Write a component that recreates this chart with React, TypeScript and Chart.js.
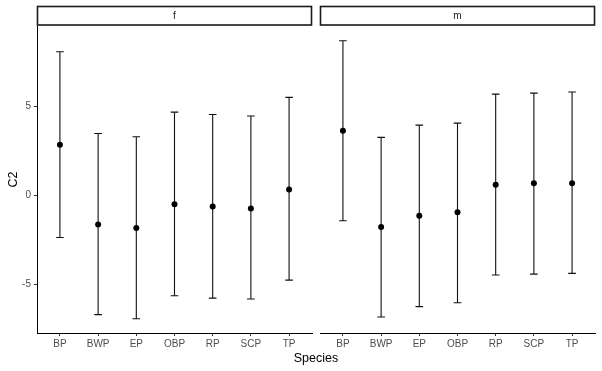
import React, { useEffect, useRef } from "react";
import { Chart, registerables } from "chart.js";

Chart.register(...registerables);

const categories = ["BP", "BWP", "EP", "OBP", "RP", "SCP", "TP"];
const panels = ["f", "m"];

const fMean = [2.83, -1.65, -1.85, -0.51, -0.64, -0.75, 0.32];
const fLower = [-2.38, -6.72, -6.95, -5.66, -5.79, -5.84, -4.78];
const fUpper = [8.05, 3.46, 3.28, 4.66, 4.53, 4.44, 5.49];

const mMean = [3.61, -1.8, -1.16, -0.97, 0.58, 0.67, 0.67];
const mLower = [-1.44, -6.85, -6.27, -6.05, -4.49, -4.44, -4.4];
const mUpper = [8.67, 3.24, 3.93, 4.04, 5.67, 5.73, 5.79];

const yTicks = [-5, 0, 5];
const yMin = -7.75;
const yMax = 9.5;
const capWidth = 0.2;

const FONT = "'Liberation Sans', Arial, sans-serif";

function makeConfig(
  label: string,
  means: number[],
  lowers: number[],
  uppers: number[],
  showY: boolean,
  padLeft: number,
  padRight: number
): any {
  const errorBars = {
    id: "errorBars",
    beforeDatasetsDraw(chart: any) {
      const ctx = chart.ctx;
      const xs = chart.scales.x;
      const ys = chart.scales.y;
      ctx.save();
      ctx.strokeStyle = "#111111";
      ctx.lineWidth = 1.1;
      for (let i = 0; i < means.length; i++) {
        const x = xs.getPixelForValue(i);
        const xl = xs.getPixelForValue(i - capWidth / 2);
        const xr = xs.getPixelForValue(i + capWidth / 2);
        const yl = ys.getPixelForValue(lowers[i]);
        const yu = ys.getPixelForValue(uppers[i]);
        ctx.beginPath();
        ctx.moveTo(x, yl);
        ctx.lineTo(x, yu);
        ctx.moveTo(xl, yl);
        ctx.lineTo(xr, yl);
        ctx.moveTo(xl, yu);
        ctx.lineTo(xr, yu);
        ctx.stroke();
      }
      ctx.restore();
    },
  };
  const strip = {
    id: "strip",
    afterDraw(chart: any) {
      const ctx = chart.ctx;
      const a = chart.chartArea;
      ctx.save();
      ctx.fillStyle = "#ffffff";
      ctx.strokeStyle = "#1a1a1a";
      ctx.lineWidth = 1.6;
      const top = a.top - 19.5;
      ctx.fillRect(a.left, top, a.right - a.left, 18.5);
      ctx.strokeRect(a.left + 0.5, top, a.right - a.left - 1, 18.5);
      ctx.fillStyle = "#1a1a1a";
      ctx.font = `10px ${FONT}`;
      ctx.textAlign = "center";
      ctx.textBaseline = "middle";
      ctx.fillText(label, (a.left + a.right) / 2, top + 9.5);
      ctx.restore();
    },
  };
  return {
    type: "scatter",
    data: {
      datasets: [
        {
          data: means.map((v, i) => ({ x: i, y: v })),
          backgroundColor: "#000000",
          borderColor: "#000000",
          pointRadius: 3,
          borderWidth: 0,
        },
      ],
    },
    options: {
      responsive: false,
      animation: false,
      events: [],
      layout: { padding: { top: 26, left: padLeft, right: padRight, bottom: 0 } },
      plugins: {
        legend: { display: false },
        tooltip: { enabled: false },
      },
      scales: {
        x: {
          type: "linear",
          min: -0.6,
          max: categories.length - 0.4,
          afterBuildTicks(scale: any) {
            scale.ticks = categories.map((_, i) => ({ value: i }));
          },
          afterFit(scale: any) {
            scale.height = 38;
          },
          ticks: {
            callback: (v: number) => categories[v],
            color: "#4d4d4d",
            font: { family: FONT, size: 10 },
            padding: 2,
            maxRotation: 0,
            autoSkip: false,
          },
          grid: {
            drawOnChartArea: false,
            drawTicks: true,
            tickLength: 3,
            color: "#333333",
            tickWidth: 1,
          },
          border: { display: true, color: "#000000", width: 1 },
        },
        y: {
          display: showY,
          min: yMin,
          max: yMax,
          afterBuildTicks(scale: any) {
            scale.ticks = yTicks.map((v) => ({ value: v }));
          },
          afterFit(scale: any) {
            if (showY) scale.width = 37;
          },
          ticks: {
            color: "#4d4d4d",
            font: { family: FONT, size: 10 },
            padding: 3,
          },
          grid: {
            drawOnChartArea: false,
            drawTicks: true,
            tickLength: 3,
            color: "#333333",
            tickWidth: 1,
          },
          border: { display: true, color: "#000000", width: 1 },
          title: {
            display: showY,
            text: "C2",
            color: "#000000",
            font: { family: FONT, size: 12.5 },
            padding: { top: 6, bottom: 0 },
          },
        },
      },
    },
    plugins: [errorBars, strip],
  };
}

export default function App() {
  const leftRef = useRef<HTMLCanvasElement | null>(null);
  const rightRef = useRef<HTMLCanvasElement | null>(null);

  useEffect(() => {
    const c1 = new Chart(
      leftRef.current as HTMLCanvasElement,
      makeConfig(panels[0], fMean, fLower, fUpper, true, 0, 3)
    );
    const c2 = new Chart(
      rightRef.current as HTMLCanvasElement,
      makeConfig(panels[1], mMean, mLower, mUpper, false, 3, 7)
    );
    return () => {
      c1.destroy();
      c2.destroy();
    };
  }, []);

  return (
    <div
      style={{
        position: "fixed",
        left: 0,
        top: 0,
        width: 602,
        height: 371,
        background: "#ffffff",
      }}
    >
      <canvas
        ref={leftRef}
        width={316}
        height={371}
        style={{ position: "absolute", left: 0, top: 0, width: 316, height: 371 }}
      />
      <canvas
        ref={rightRef}
        width={286}
        height={371}
        style={{ position: "absolute", left: 316, top: 0, width: 286, height: 371 }}
      />
      <div
        style={{
          position: "absolute",
          left: 0,
          width: 632,
          top: 351,
          textAlign: "center",
          fontFamily: FONT,
          fontSize: 12.5,
          color: "#000000",
          lineHeight: "15px",
        }}
      >
        Species
      </div>
    </div>
  );
}
